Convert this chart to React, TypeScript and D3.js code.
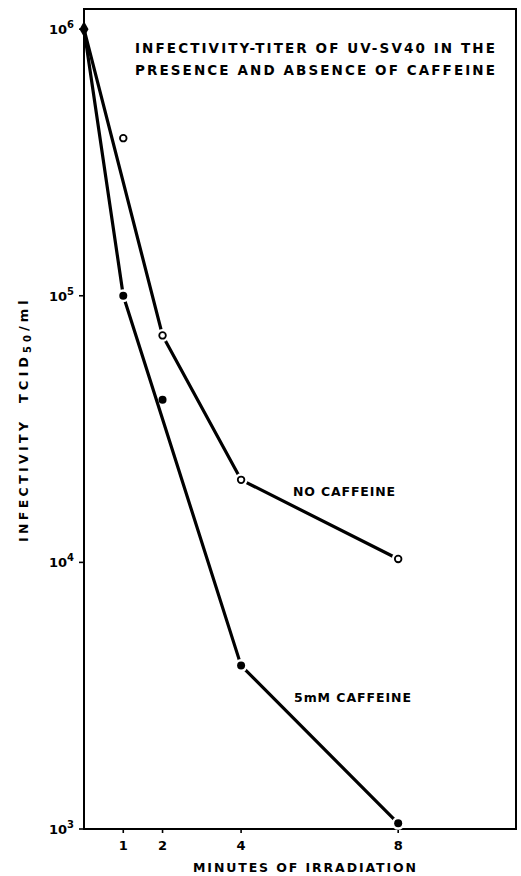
import React from 'react';
import * as d3 from 'd3';

// minutes of UV irradiation
const minutes = [0, 1, 2, 4, 8];
// infectivity, TCID50/ml
const noCaffeine = [1e6, 3.9e5, 7.1e4, 2.04e4, 1.03e4];
const caffeine5mM = [1e6, 1e5, 4.07e4, 4.1e3, 1.05e3];
// which points the hand-drawn lines go through
const noCaffeineLine = [0, 2, 3, 4];
const caffeineLine = [0, 1, 3, 4];

const xTicks = [1, 2, 4, 8];
const yTicks = [1e3, 1e4, 1e5, 1e6];

const titleLines = ['INFECTIVITY-TITER OF UV-SV40 IN THE', 'PRESENCE AND ABSENCE OF CAFFEINE'];

const W = 521;
const H = 876;
const FONT = '"DejaVu Sans", sans-serif';

const App = () => {
  const x = d3.scaleLinear().domain([0, 11]).range([84, 516]);
  const y = d3.scaleLog().domain([1e3, 1.19e6]).range([829, 9]);

  const line = d3.line<[number, number]>()
    .x(d => x(d[0]))
    .y(d => y(d[1]));

  const series = [
    { vals: noCaffeine, path: noCaffeineLine, open: true },
    { vals: caffeine5mM, path: caffeineLine, open: false },
  ];

  const [x0, x1] = x.range();
  const [yb, yt] = y.range();

  return (
    <svg width={W} height={H} style={{ position: 'absolute', left: 0, top: 0, background: '#fff' }}
      fontFamily={FONT} fontWeight="bold">
      {/* frame */}
      <rect x={x0} y={yt} width={x1 - x0} height={yb - yt} fill="none" stroke="#000" strokeWidth={2} />

      {/* y ticks */}
      {yTicks.map(t => (
        <g key={t}>
          <line x1={x0 - 5} x2={x0} y1={y(t)} y2={y(t)} stroke="#000" strokeWidth={1.6} />
          <text x={x0 - 10} y={y(t) + 5} textAnchor="end" fontSize={13}>
            10<tspan dy={-6} fontSize={10}>{Math.round(Math.log10(t))}</tspan>
          </text>
        </g>
      ))}

      {/* x ticks */}
      {xTicks.map(t => (
        <g key={t}>
          <line x1={x(t)} x2={x(t)} y1={yb} y2={yb + 4} stroke="#000" strokeWidth={1.6} />
          <text x={x(t)} y={yb + 21} textAnchor="middle" fontSize={13}>{t}</text>
        </g>
      ))}

      {/* axis labels */}
      <text x={193} y={872} fontSize={12.5} textLength={223} lengthAdjust="spacing">
        MINUTES OF IRRADIATION
      </text>
      <g transform="translate(28,0) rotate(-90)">
        <text x={-542} y={0} fontSize={12.5} textLength={120} lengthAdjust="spacing">INFECTIVITY</text>
        <text x={-403} y={0} fontSize={13} letterSpacing={4}>
          TCID<tspan dy={3} fontSize={10}>50</tspan><tspan dy={-3}>/ml</tspan>
        </text>
      </g>

      {/* title */}
      {titleLines.map((s, i) => (
        <text key={s} x={135} y={53 + i * 22} fontSize={13.5} textLength={360} lengthAdjust="spacing">{s}</text>
      ))}

      {/* lines */}
      {series.map((s, i) => (
        <path key={i} d={line(s.path.map(j => [minutes[j], s.vals[j]]) as [number, number][]) || ''}
          fill="none" stroke="#000" strokeWidth={3.2} strokeLinejoin="round" />
      ))}

      {/* markers */}
      {series.map((s, i) => s.vals.map((v, j) => {
        if (j === 0) return null;
        const onLine = s.path.includes(j);
        return (
          <g key={`${i}-${j}`}>
            {onLine && <circle cx={x(minutes[j])} cy={y(v)} r={6.5} fill="#fff" />}
            {s.open
              ? <circle cx={x(minutes[j])} cy={y(v)} r={3.3} fill="#fff" stroke="#000" strokeWidth={1.8} />
              : <circle cx={x(minutes[j])} cy={y(v)} r={4} fill="#000" />}
          </g>
        );
      }))}
      {/* shared starting point */}
      <path d={d3.symbol(d3.symbolDiamond, 70)() || ''}
        transform={`translate(${x(minutes[0])},${y(noCaffeine[0])})`} fill="#000" />

      {/* series labels */}
      <text x={293} y={496} fontSize={12.5} textLength={102} lengthAdjust="spacing">NO CAFFEINE</text>
      <text x={294} y={702} fontSize={12.5} textLength={117} lengthAdjust="spacing">5mM CAFFEINE</text>
    </svg>
  );
};

export default App;
